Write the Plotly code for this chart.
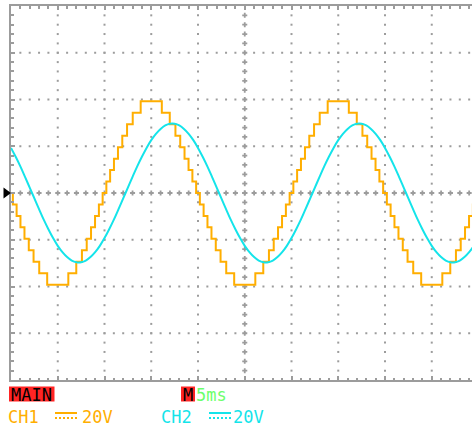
import plotly.graph_objects as go

# ---------------- data read from the screen ----------------
# CH2 (cyan, smooth) sampled every 0.5 ms, volts
cyan_time_ms = [
    0.0, 0.5, 1.0, 1.5, 2.0, 2.5, 3.0, 3.5, 4.0, 4.5, 5.0, 5.5, 6.0, 6.5, 7.0, 7.5, 8.0, 8.5, 9.0, 9.5,
    10.0, 10.5, 11.0, 11.5, 12.0, 12.5, 13.0, 13.5, 14.0, 14.5, 15.0, 15.5, 16.0, 16.5, 17.0, 17.5, 18.0, 18.5, 19.0, 19.5,
    20.0, 20.5, 21.0, 21.5, 22.0, 22.5, 23.0, 23.5, 24.0, 24.5, 25.0, 25.5, 26.0, 26.5, 27.0, 27.5, 28.0, 28.5, 29.0, 29.5,
    30.0, 30.5, 31.0, 31.5, 32.0, 32.5, 33.0, 33.5, 34.0, 34.5, 35.0, 35.5, 36.0, 36.5, 37.0, 37.5, 38.0, 38.5, 39.0, 39.5,
    40.0, 40.5, 41.0, 41.5, 42.0, 42.5, 43.0, 43.5, 44.0, 44.5, 45.0, 45.5, 46.0, 46.5, 47.0, 47.5, 48.0, 48.5, 49.0, 49.5,
    50.0,
]
cyan_volts = [
    19.3, 15.5, 11.4, 6.9, 2.3, -2.3, -6.9, -11.4, -15.5, -19.3, -22.6, -25.3, -27.4, -28.9, -29.6, -29.6, -28.9, -27.4, -25.3, -22.6,
    -19.3, -15.5, -11.4, -6.9, -2.3, 2.3, 6.9, 11.4, 15.5, 19.3, 22.6, 25.3, 27.4, 28.9, 29.6, 29.6, 28.9, 27.4, 25.3, 22.6,
    19.3, 15.5, 11.4, 6.9, 2.3, -2.3, -6.9, -11.4, -15.5, -19.3, -22.6, -25.3, -27.4, -28.9, -29.6, -29.6, -28.9, -27.4, -25.3, -22.6,
    -19.3, -15.5, -11.4, -6.9, -2.3, 2.3, 6.9, 11.4, 15.5, 19.3, 22.6, 25.3, 27.4, 28.9, 29.6, 29.6, 28.9, 27.4, 25.3, 22.6,
    19.3, 15.5, 11.4, 6.9, 2.3, -2.3, -6.9, -11.4, -15.5, -19.3, -22.6, -25.3, -27.4, -28.9, -29.6, -29.6, -28.9, -27.4, -25.3, -22.6,
    -19.3,
]

# CH1 (orange, staircase): time at which each step starts (ms) and its level (V)
orange_step_ms = [
    0.000, 0.199, 0.600, 1.012, 1.441, 1.902, 2.413, 3.019, 3.869,
    6.131, 6.981, 7.587, 8.098, 8.559, 8.988, 9.400, 9.801,
    10.199, 10.600, 11.012, 11.441, 11.902, 12.413, 13.019, 13.869,
    16.131, 16.981, 17.587, 18.098, 18.559, 18.988, 19.400, 19.801,
    20.199, 20.600, 21.012, 21.441, 21.902, 22.413, 23.019, 23.869,
    26.131, 26.981, 27.587, 28.098, 28.559, 28.988, 29.400, 29.801,
    30.199, 30.600, 31.012, 31.441, 31.902, 32.413, 33.019, 33.869,
    36.131, 36.981, 37.587, 38.098, 38.559, 38.988, 39.400, 39.801,
    40.199, 40.600, 41.012, 41.441, 41.902, 42.413, 43.019, 43.869,
    46.131, 46.981, 47.587, 48.098, 48.559, 48.988, 49.400, 49.801,
    50.000,
]
orange_volts = [
    0.0, -4.9, -9.8, -14.7, -19.6, -24.5, -29.4, -34.3, -39.2,
    -34.3, -29.4, -24.5, -19.6, -14.7, -9.8, -4.9, 0.0,
    4.9, 9.8, 14.7, 19.6, 24.5, 29.4, 34.3, 39.2,
    34.3, 29.4, 24.5, 19.6, 14.7, 9.8, 4.9, 0.0,
    -4.9, -9.8, -14.7, -19.6, -24.5, -29.4, -34.3, -39.2,
    -34.3, -29.4, -24.5, -19.6, -14.7, -9.8, -4.9, 0.0,
    4.9, 9.8, 14.7, 19.6, 24.5, 29.4, 34.3, 39.2,
    34.3, 29.4, 24.5, 19.6, 14.7, 9.8, 4.9, 0.0,
    -4.9, -9.8, -14.7, -19.6, -24.5, -29.4, -34.3, -39.2,
    -34.3, -29.4, -24.5, -19.6, -14.7, -9.8, -4.9, 0.0,
    0.0,
]

# readouts
main_label = "MAIN"
timebase_prefix = "M"
timebase_label = "5ms"
ch1_label = "CH1"
ch2_label = "CH2"
ch1_scale = "20V"
ch2_scale = "20V"

# ---------------- screen geometry ----------------
MS_PER_DIV = 5
V_PER_DIV = 20
H_DIVS = 10
V_DIVS = 8
SUB = 5  # minor marks per division

PLOT_L, PLOT_T, PLOT_W, PLOT_H = 11, 6, 461, 374
PX_PER_DIV = PLOT_H / V_DIVS            # 46.75
X_MAX_MS = PLOT_W / PX_PER_DIV * MS_PER_DIV  # visible part of the 10 divisions

ORANGE = "#FFAE00"
CYAN = "#14E4EA"
GRID = "#9C9C9C"
RED = "#FF2424"
GREEN = "#6CFF6C"
FONT = "DejaVu Sans Mono"


def pxx(xp):
    return (xp - PLOT_L) / PLOT_W


def pxy(yp):
    return (PLOT_T + PLOT_H - yp) / PLOT_H


fig = go.Figure()

# graticule dots on major lines and crosses on the centre lines
dot_x, dot_y, cr_x, cr_y = [], [], [], []
x_center = H_DIVS // 2 * MS_PER_DIV
for d in range(1, H_DIVS):
    xv = d * MS_PER_DIV
    for k in range(1, V_DIVS * SUB):
        yv = -V_DIVS / 2 * V_PER_DIV + k * V_PER_DIV / SUB
        if xv == x_center:
            cr_x.append(xv); cr_y.append(yv)
        else:
            dot_x.append(xv); dot_y.append(yv)
for d in range(1, V_DIVS):
    yv = -V_DIVS / 2 * V_PER_DIV + d * V_PER_DIV
    for k in range(1, H_DIVS * SUB):
        xv = k * MS_PER_DIV / SUB
        if yv == 0:
            cr_x.append(xv); cr_y.append(yv)
        else:
            dot_x.append(xv); dot_y.append(yv)

fig.add_trace(go.Scatter(x=dot_x, y=dot_y, mode="markers", hoverinfo="skip",
                         marker=dict(symbol="square", size=2, color=GRID, line=dict(width=0))))
fig.add_trace(go.Scatter(x=cr_x, y=cr_y, mode="markers", hoverinfo="skip",
                         marker=dict(symbol="cross-thin", size=3.6, color=GRID,
                                     line=dict(width=1.8, color=GRID))))

# waveforms
fig.add_trace(go.Scatter(x=orange_step_ms, y=orange_volts, mode="lines", name="CH1",
                         line=dict(color=ORANGE, width=2, shape="hv")))
fig.add_trace(go.Scatter(x=cyan_time_ms, y=cyan_volts, mode="lines", name="CH2",
                         line=dict(color=CYAN, width=2, shape="spline", smoothing=1.0)))

axis_common = dict(showgrid=False, zeroline=False, showline=True, linecolor=GRID, linewidth=2,
                   ticks="inside", tickcolor=GRID, tickwidth=2, ticklen=4,
                   showticklabels=False, fixedrange=True)

fig.update_xaxes(range=[0, X_MAX_MS], tick0=0, dtick=MS_PER_DIV, mirror="ticks",
                 minor=dict(ticks="inside", dtick=MS_PER_DIV / SUB, ticklen=2.5, tickwidth=1.5,
                            tickcolor=GRID, showgrid=False),
                 **axis_common)
fig.update_yaxes(range=[-V_DIVS / 2 * V_PER_DIV, V_DIVS / 2 * V_PER_DIV], tick0=0, dtick=V_PER_DIV,
                 mirror=False,
                 minor=dict(ticks="inside", dtick=V_PER_DIV / SUB, ticklen=2.5, tickwidth=1.5,
                            tickcolor=GRID, showgrid=False),
                 **axis_common)

# ground-level marker (black triangle left of the graticule at 0 V)
gy = PLOT_T + PLOT_H / 2
tri = "M {:.5f},{:.5f} L {:.5f},{:.5f} L {:.5f},{:.5f} Z".format(
    pxx(3.5), pxy(gy - 5.5), pxx(11), pxy(gy), pxx(3.5), pxy(gy + 5.5))

shapes = [
    dict(type="path", xref="paper", yref="paper", path=tri, fillcolor="black", line=dict(width=0)),
    dict(type="rect", xref="paper", yref="paper", x0=pxx(9), x1=pxx(54.5), y0=pxy(401.5), y1=pxy(386.5),
         fillcolor=RED, line=dict(width=0)),
    dict(type="rect", xref="paper", yref="paper", x0=pxx(181), x1=pxx(195), y0=pxy(401.5), y1=pxy(386.5),
         fillcolor=RED, line=dict(width=0)),
    dict(type="line", xref="paper", yref="paper", x0=pxx(55), x1=pxx(77), y0=pxy(413), y1=pxy(413),
         line=dict(color=ORANGE, width=2)),
    dict(type="line", xref="paper", yref="paper", x0=pxx(55), x1=pxx(77), y0=pxy(418), y1=pxy(418),
         line=dict(color=ORANGE, width=2, dash="2px,2px")),
    dict(type="line", xref="paper", yref="paper", x0=pxx(209), x1=pxx(231), y0=pxy(413), y1=pxy(413),
         line=dict(color=CYAN, width=2)),
    dict(type="line", xref="paper", yref="paper", x0=pxx(209), x1=pxx(231), y0=pxy(418), y1=pxy(418),
         line=dict(color=CYAN, width=2, dash="2px,2px")),
]


def label(text, x, y, color, anchor="left"):
    return dict(text=text, xref="paper", yref="paper", x=pxx(x), y=pxy(y), xanchor=anchor,
                yanchor="middle", showarrow=False, font=dict(family=FONT, size=17, color=color))


annotations = [
    label(main_label, 31.8, 395, "black", "center"),
    label(timebase_prefix, 188, 395, "black", "center"),
    label(timebase_label, 194, 395, GREEN),
    label(ch1_label, 6, 416.5, ORANGE),
    label(ch1_scale, 80, 416.5, ORANGE),
    label(ch2_label, 159, 416.5, CYAN),
    label(ch2_scale, 231, 416.5, CYAN),
]

fig.update_layout(width=472, height=427, margin=dict(l=PLOT_L, r=0, t=PLOT_T, b=427 - PLOT_T - PLOT_H),
                  paper_bgcolor="white", plot_bgcolor="white", showlegend=False,
                  shapes=shapes, annotations=annotations)

fig.write_html("out.html")
